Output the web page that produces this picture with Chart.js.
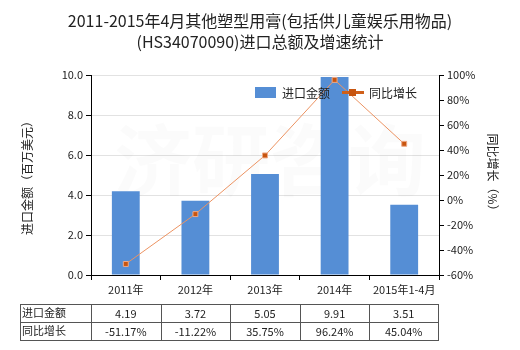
<!DOCTYPE html>
<html>
<head>
<meta charset="utf-8">
<script src="https://cdn.jsdelivr.net/npm/chart.js@4/dist/chart.umd.min.js"></script>
<style>
  html, body { margin: 0; padding: 0; background: #fff; }
  #wrap { width: 520px; height: 350px; }
</style>
</head>
<body>
<div id="wrap"><canvas id="myChart" width="520" height="350"></canvas></div>
<script>
// data
const years = ['2011年', '2012年', '2013年', '2014年', '2015年1-4月'];
const importValue = [4.19, 3.72, 5.05, 9.91, 3.51];      // 百万美元
const growthRate = [-51.17, -11.22, 35.75, 96.24, 45.04]; // %
const importLabels = ['4.19', '3.72', '5.05', '9.91', '3.51'];
const growthLabels = ['-51.17%', '-11.22%', '35.75%', '96.24%', '45.04%'];

const FONT = '"Noto Sans CJK SC", "DejaVu Sans", sans-serif';
const barColor = '#558ed5';
const lineColor = '#ec9362';
const markColor = '#c8550f';

// legend, table and watermark drawn on top of the chart
const extras = {
  id: 'extras',
  beforeDatasetsDraw(chart) {
    const ctx = chart.ctx;
    ctx.save();
    ctx.fillStyle = 'rgba(0,0,0,0.016)';
    ctx.font = 'bold 78px ' + FONT;
    ctx.textAlign = 'center';
    ctx.textBaseline = 'middle';
    ctx.fillText('济研咨询', 270, 160);
    ctx.restore();
  },
  afterDraw(chart) {
    const ctx = chart.ctx;
    const x = chart.scales.x;
    ctx.save();

    // legend
    ctx.font = '12px ' + FONT;
    ctx.textBaseline = 'middle';
    ctx.fillStyle = barColor;
    ctx.fillRect(255, 87, 21, 11);
    ctx.fillStyle = '#222';
    ctx.fillText('进口金额', 282, 93);
    ctx.strokeStyle = '#d0601a';
    ctx.lineWidth = 3;
    ctx.beginPath();
    ctx.moveTo(342, 92.5);
    ctx.lineTo(364, 92.5);
    ctx.stroke();
    ctx.fillStyle = markColor;
    ctx.fillRect(349, 89, 7, 7);
    ctx.fillStyle = '#222';
    ctx.fillText('同比增长', 369, 93);

    // data table
    const left = 20, right = x.right - 1;
    const rows = [304, 322, 340];
    const cols = [left, x.left];
    for (let i = 0; i < years.length; i++) {
      cols.push(i < years.length - 1 ? (x.getPixelForValue(i) + x.getPixelForValue(i + 1)) / 2 : right);
    }
    ctx.strokeStyle = '#555';
    ctx.lineWidth = 1;
    rows.forEach(r => {
      ctx.beginPath();
      ctx.moveTo(left, r + 0.5);
      ctx.lineTo(right, r + 0.5);
      ctx.stroke();
    });
    cols.forEach(c => {
      const cx = Math.round(c) + 0.5;
      ctx.beginPath();
      ctx.moveTo(cx, rows[0]);
      ctx.lineTo(cx, rows[2] + 1);
      ctx.stroke();
    });
    ctx.font = '11px ' + FONT;
    ctx.fillStyle = '#222';
    ctx.textAlign = 'left';
    ctx.fillText('进口金额', left + 2, 313);
    ctx.fillText('同比增长', left + 2, 331);
    ctx.textAlign = 'center';
    for (let i = 0; i < years.length; i++) {
      const cx = (cols[i + 1] + cols[i + 2]) / 2;
      ctx.fillText(importLabels[i], cx, 314);
      ctx.fillText(growthLabels[i], cx, 332);
    }
    ctx.restore();
  }
};

const ctx = document.getElementById('myChart').getContext('2d');
const myChart = new Chart(ctx, {
  type: 'bar',
  data: {
    labels: years,
    datasets: [{
      type: 'line',
      label: '同比增长',
      data: growthRate,
      yAxisID: 'y1',
      borderColor: lineColor,
      borderWidth: 1,
      pointStyle: 'rect',
      pointRadius: 3.5,
      pointBackgroundColor: markColor,
      pointBorderColor: '#eeaa88',
      pointBorderWidth: 1,
      tension: 0,
      order: 0
    }, {
      label: '进口金额',
      data: importValue,
      yAxisID: 'y',
      backgroundColor: barColor,
      categoryPercentage: 1,
      barPercentage: 0.4,
      order: 1
    }]
  },
  options: {
    responsive: false,
    animation: false,
    layout: { padding: 0 },
    plugins: {
      legend: { display: false },
      tooltip: { enabled: false },
      title: {
        display: true,
        text: ['2011-2015年4月其他塑型用膏(包括供儿童娱乐用物品)', '(HS34070090)进口总额及增速统计'],
        color: '#222',
        font: { family: FONT, size: 16, weight: 'normal', lineHeight: 1.35 },
        padding: { top: 10, bottom: 22 }
      }
    },
    scales: {
      x: {
        afterFit(scale) { scale.height = 75; },
        grid: { drawOnChartArea: false, tickColor: '#000', tickLength: 5 },
        border: { color: '#000' },
        ticks: { color: '#222', font: { family: FONT, size: 11 }, padding: 3, maxRotation: 0 }
      },
      y: {
        position: 'left',
        min: 0,
        max: 10,
        afterFit(scale) { scale.width = 91; },
        ticks: {
          stepSize: 2,
          color: '#222',
          font: { family: FONT, size: 11 },
          padding: 3,
          callback: v => v.toFixed(1)
        },
        grid: { color: '#e2e2e2', tickColor: '#000', tickLength: 5 },
        border: { color: '#000' },
        title: {
          display: true,
          text: '进口金额（百万美元）',
          color: '#222',
          font: { family: FONT, size: 12 },
          padding: { top: 20, bottom: 0 }
        }
      },
      y1: {
        position: 'right',
        min: -60,
        max: 100,
        afterFit(scale) { scale.width = 81; },
        ticks: {
          stepSize: 20,
          color: '#222',
          font: { family: FONT, size: 11 },
          padding: 3,
          callback: v => v + '%'
        },
        grid: { drawOnChartArea: false, tickColor: '#000', tickLength: 5 },
        border: { color: '#000' },
        title: {
          display: true,
          text: '同比增长（%）',
          color: '#222',
          font: { family: FONT, size: 12 },
          padding: { top: 20, bottom: 0 }
        }
      }
    }
  },
  plugins: [extras]
});
</script>
</body>
</html>
